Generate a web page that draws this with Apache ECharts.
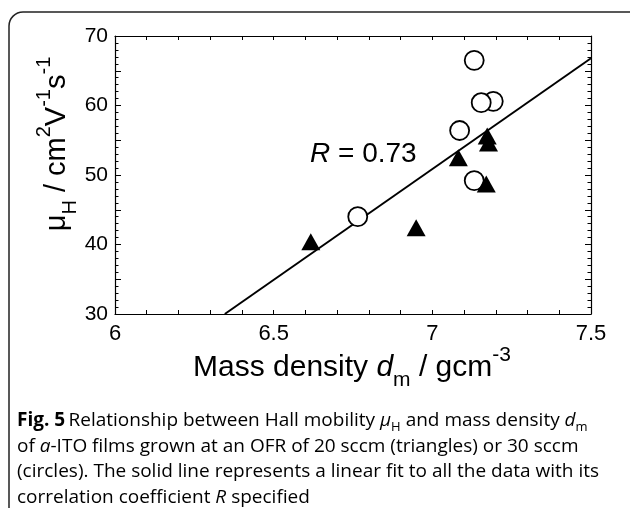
<!DOCTYPE html>
<html>
<head>
<meta charset="utf-8">
<script src="https://cdn.jsdelivr.net/npm/echarts@6/dist/echarts.min.js"></script>
<style>
  html, body { margin: 0; padding: 0; background: #fff; }
  #chart { width: 630px; height: 508px; }
</style>
</head>
<body>
<div id="chart"></div>
<script>
// 20 sccm films (triangles)
const densityTri = [6.617, 6.949, 7.082, 7.173, 7.177, 7.170];
const mobilityTri = [40.4, 42.4, 52.5, 55.6, 54.6, 48.7];
// 30 sccm films (circles)
const densityCirc = [6.765, 7.086, 7.132, 7.192, 7.154, 7.132];
const mobilityCirc = [44.0, 56.4, 49.2, 60.6, 60.4, 66.5];
// linear fit, end points
const fitX = [6.346, 7.5];
const fitY = [30, 66.8];
const xTicks = [6, 6.5, 7, 7.5];
const yTicks = [30, 40, 50, 60, 70];

const zip = (a, b) => a.map((v, i) => [v, b[i]]);

const axisFont = 'Liberation Sans, Arial, sans-serif';
const black = '#000';

function xAxisCfg(pos, showLabel) {
  return {
    type: 'value', position: pos, min: 6, max: 7.5, interval: 0.5,
    axisLine: { show: true, onZero: false, lineStyle: { color: black, width: 1.2 } },
    axisTick: { show: true, inside: true, length: 4, lineStyle: { color: black, width: 1 } },
    minorTick: { show: true, splitNumber: 5, length: 4, lineStyle: { color: black, width: 1 } },
    splitLine: { show: false },
    axisLabel: {
      show: showLabel, margin: 9, color: black, fontSize: 22, fontFamily: axisFont,
      formatter: v => xTicks.includes(+v.toFixed(2)) ? String(v) : ''
    }
  };
}

function yAxisCfg(pos, showLabel) {
  return {
    type: 'value', position: pos, min: 30, max: 70, interval: 5,
    axisLine: { show: true, onZero: false, lineStyle: { color: black, width: 1.2 } },
    axisTick: { show: true, inside: true, length: 6, lineStyle: { color: black, width: 1 } },
    minorTick: { show: true, splitNumber: 5, length: 3.5, lineStyle: { color: black, width: 1 } },
    splitLine: { show: false },
    axisLabel: {
      show: showLabel, margin: 7, color: black, fontSize: 21, fontFamily: axisFont,
      formatter: v => yTicks.includes(v) ? String(v) : ''
    }
  };
}

let myChart = echarts.init(document.getElementById('chart'), null, { renderer: 'canvas' });

let titleMain = { fontSize: 30, fontFamily: axisFont, color: black, lineHeight: 46, verticalAlign: 'middle' };
let titleSup = { fontSize: 21, fontFamily: axisFont, color: black, lineHeight: 21, verticalAlign: 'top' };
let titleSub = { fontSize: 21, fontFamily: axisFont, color: black, lineHeight: 30, verticalAlign: 'bottom' };

let yMain = Object.assign({}, titleMain, { fontSize: 29 });
let ySup = Object.assign({}, titleSup, { fontSize: 20 });
let ySub = Object.assign({}, titleSub, { fontSize: 20 });

let capFont = '"Open Sans", sans-serif';
let capColor = '#2b2b2b';
let cap = { fontSize: 19, fontFamily: capFont, color: capColor, lineHeight: 25.7, verticalAlign: 'middle' };
let capSub = { fontSize: 13, fontFamily: capFont, color: capColor, lineHeight: 17, verticalAlign: 'bottom' };

let option = {
  animation: false,
  backgroundColor: '#fff',
  grid: { left: 115, top: 36, width: 476, height: 278 },
  xAxis: [xAxisCfg('bottom', true), xAxisCfg('top', false)],
  yAxis: [yAxisCfg('left', true), yAxisCfg('right', false)],
  series: [
    {
      type: 'line', data: zip(fitX, fitY), symbol: 'none', z: 2,
      lineStyle: { color: black, width: 2 }
    },
    {
      type: 'scatter', data: zip(densityCirc, mobilityCirc), symbol: 'circle', symbolSize: 19, z: 3,
      itemStyle: { color: '#fff', borderColor: black, borderWidth: 1.8, opacity: 1 }
    },
    {
      type: 'scatter', data: zip(densityTri, mobilityTri), symbol: 'triangle', symbolSize: [19, 17], z: 4,
      itemStyle: { color: black, opacity: 1 }
    }
  ],
  graphic: [
    {
      type: 'rect', z: -1, silent: true,
      shape: { x: 9, y: 12, width: 700, height: 600, r: 14 },
      style: { fill: 'none', stroke: '#222', lineWidth: 1.5 }
    },
    {
      type: 'text', x: 310, y: 154,
      style: {
        text: '{i|R} = 0.73', fontSize: 28, fontFamily: axisFont, fill: black,
        verticalAlign: 'middle',
        rich: { i: { fontSize: 28, fontFamily: axisFont, fontStyle: 'italic', color: black } }
      }
    },
    {
      type: 'text', x: 352, y: 368,
      style: {
        text: '{m|Mass density }{mi|d}{s|m}{m| / gcm}{p|-3}',
        align: 'center', verticalAlign: 'middle',
        rich: { m: titleMain, mi: Object.assign({}, titleMain, { fontStyle: 'italic' }), s: titleSub, p: titleSup }
      }
    },
    {
      type: 'text', x: 57, y: 144, rotation: Math.PI / 2,
      style: {
        text: '{m|μ}{s|H}{m| / cm}{p|2}{m|V}{p|-1}{m|s}{p|-1}',
        align: 'center', verticalAlign: 'middle',
        rich: { m: yMain, s: ySub, p: ySup }
      }
    },
    {
      type: 'text', left: 17, top: 411,
      style: {
        text: '{b|Fig. 5} {t|Relationship between Hall mobility }{i|μ}{s|H}{t| and mass density }{i|d}{s|m}\n' +
              '{t|of }{i|a}{t|-ITO films grown at an OFR of 20 sccm (triangles) or 30 sccm}\n' +
              '{t|(circles). The solid line represents a linear fit to all the data with its}\n' +
              '{t|correlation coefficient }{i|R}{t| specified}',
        rich: {
          t: cap,
          b: Object.assign({}, cap, { fontWeight: 'bold' }),
          i: Object.assign({}, cap, { fontStyle: 'italic' }),
          s: capSub
        }
      }
    }
  ]
};
myChart.setOption(option);
</script>
</body>
</html>
